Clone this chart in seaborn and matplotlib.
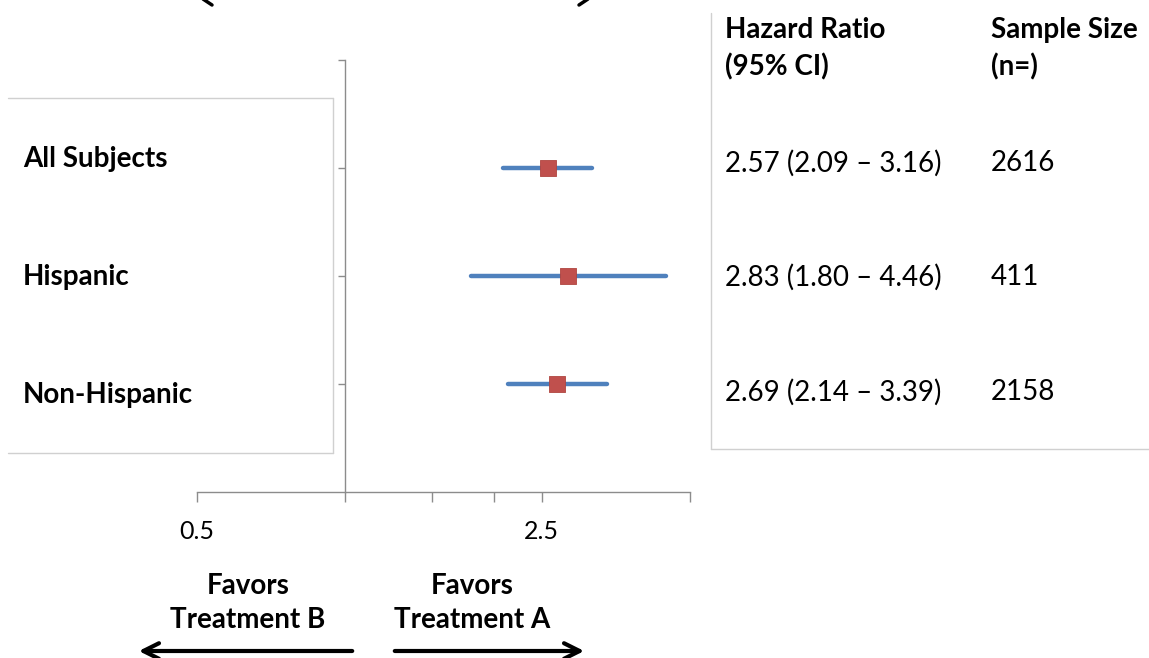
"""Forest plot: hazard ratio of Treatment A vs B by ethnicity subgroup."""

import matplotlib
matplotlib.use("Agg")
import matplotlib.pyplot as plt
from matplotlib.lines import Line2D
from matplotlib.ticker import FixedLocator, NullLocator
import pandas as pd
import seaborn as sns

SUBGROUPS = ["All Subjects", "Hispanic", "Non-Hispanic"]
HR = [2.57, 2.83, 2.69]
CI_LOW = [2.09, 1.80, 2.14]
CI_HIGH = [3.16, 4.46, 3.39]
SAMPLE_N = [2616, 411, 2158]
ROW = [3, 2, 1]

X_TICKS = [0.5, 1, 1.5, 2, 2.5, 5]
X_TICK_LABELS = ["0.5", "", "", "", "2.5", ""]

W, H = 1149, 658
BLUE = "#4F81BD"
RED = "#C0504D"
AXIS_GREY = "#8C8C8C"
BOX_GREY = "#D0D0D0"
FS = 20


def fx(px):
    return px / W


def fy(py):
    return 1 - py / H


def main():
    sns.set_style("white")
    plt.rcParams["font.family"] = ["Lato", "DejaVu Sans"]
    plt.rcParams["text.color"] = "black"

    df = pd.DataFrame({"group": SUBGROUPS, "hr": HR, "lo": CI_LOW,
                       "hi": CI_HIGH, "n": SAMPLE_N, "row": ROW})

    fig = plt.figure(figsize=(W / 100, H / 100), dpi=100)
    ax = fig.add_axes([fx(197), fy(492), fx(690) - fx(197), fy(60) - fy(492)])

    ax.hlines(df["row"], df["lo"], df["hi"], color=BLUE, lw=3.2,
              capstyle="round", zorder=2)
    sns.scatterplot(data=df, x="hr", y="row", marker="s", s=125, color=RED,
                    edgecolor="#B04540", linewidth=0.6, zorder=3, ax=ax,
                    legend=False)

    ax.set_xscale("log")
    ax.set_xlim(0.5, 5)
    ax.set_ylim(0, 4)
    ax.xaxis.set_major_locator(FixedLocator(X_TICKS))
    ax.xaxis.set_minor_locator(NullLocator())
    ax.set_xticklabels(X_TICK_LABELS)
    ax.set_yticks([1, 2, 3, 4])
    ax.set_yticklabels([])
    ax.set_xlabel("")
    ax.set_ylabel("")

    for side in ("top", "right"):
        ax.spines[side].set_visible(False)
    ax.spines["left"].set_position(("data", 1.0))
    for side in ("left", "bottom"):
        ax.spines[side].set_color(AXIS_GREY)
        ax.spines[side].set_linewidth(1.0)
    ax.tick_params(axis="x", bottom=True, direction="out", length=7, width=1,
                   color=AXIS_GREY, pad=13, labelsize=18, labelcolor="black")
    ax.tick_params(axis="y", left=True, direction="out", length=5, width=1,
                   color=AXIS_GREY)

    # left label box (top, right and bottom borders)
    for seg in [((8, 333), (98, 98)), ((333, 333), (98, 453)),
                ((8, 333), (453, 453))]:
        fig.add_artist(Line2D([fx(seg[0][0]), fx(seg[0][1])],
                              [fy(seg[1][0]), fy(seg[1][1])],
                              color=BOX_GREY, lw=1))
    for label, py in zip(df["group"], [159, 277, 395]):
        fig.text(fx(23), fy(py), label, fontsize=FS, fontweight="bold",
                 ha="left", va="center")

    # right table
    fig.add_artist(Line2D([fx(711), fx(711)], [fy(13), fy(449)],
                          color=BOX_GREY, lw=1))
    fig.add_artist(Line2D([fx(711), fx(1149)], [fy(449), fy(449)],
                          color=BOX_GREY, lw=1))
    fig.text(fx(725), fy(49), "Hazard Ratio\n(95% CI)", fontsize=FS,
             fontweight="bold", ha="left", va="center", linespacing=1.45)
    fig.text(fx(991), fy(49), "Sample Size\n(n=)", fontsize=FS,
             fontweight="bold", ha="left", va="center", linespacing=1.45)
    for (_, r), py in zip(df.iterrows(), [163, 277, 392]):
        fig.text(fx(725), fy(py),
                 f"{r['hr']:.2f} ({r['lo']:.2f} \u2013 {r['hi']:.2f})",
                 fontsize=FS, ha="left", va="center")
        fig.text(fx(991), fy(py), f"{r['n']}", fontsize=FS,
                 ha="left", va="center")

    # direction labels and arrows
    fig.text(fx(248), fy(603), "Favors\nTreatment B", fontsize=FS,
             fontweight="bold", ha="center", va="center", linespacing=1.42)
    fig.text(fx(472), fy(603), "Favors\nTreatment A", fontsize=FS,
             fontweight="bold", ha="center", va="center", linespacing=1.42)
    arrow = dict(arrowstyle="->", lw=3, color="black", mutation_scale=28)
    fig.add_artist(plt.Annotation("", xy=(fx(136), fy(651)),
                                  xytext=(fx(355), fy(651)),
                                  xycoords="figure fraction",
                                  arrowprops=arrow))
    fig.add_artist(plt.Annotation("", xy=(fx(587), fy(651)),
                                  xytext=(fx(392), fy(651)),
                                  xycoords="figure fraction",
                                  arrowprops=arrow))

    # clipped arrow tips at the top edge
    fig.add_artist(Line2D([fx(203), fx(212)], [fy(-1), fy(5)],
                          color="black", lw=2.5))
    fig.add_artist(Line2D([fx(588), fx(579)], [fy(-1), fy(5)],
                          color="black", lw=2.5))

    fig.savefig("out.png", dpi=100)


if __name__ == "__main__":
    main()
